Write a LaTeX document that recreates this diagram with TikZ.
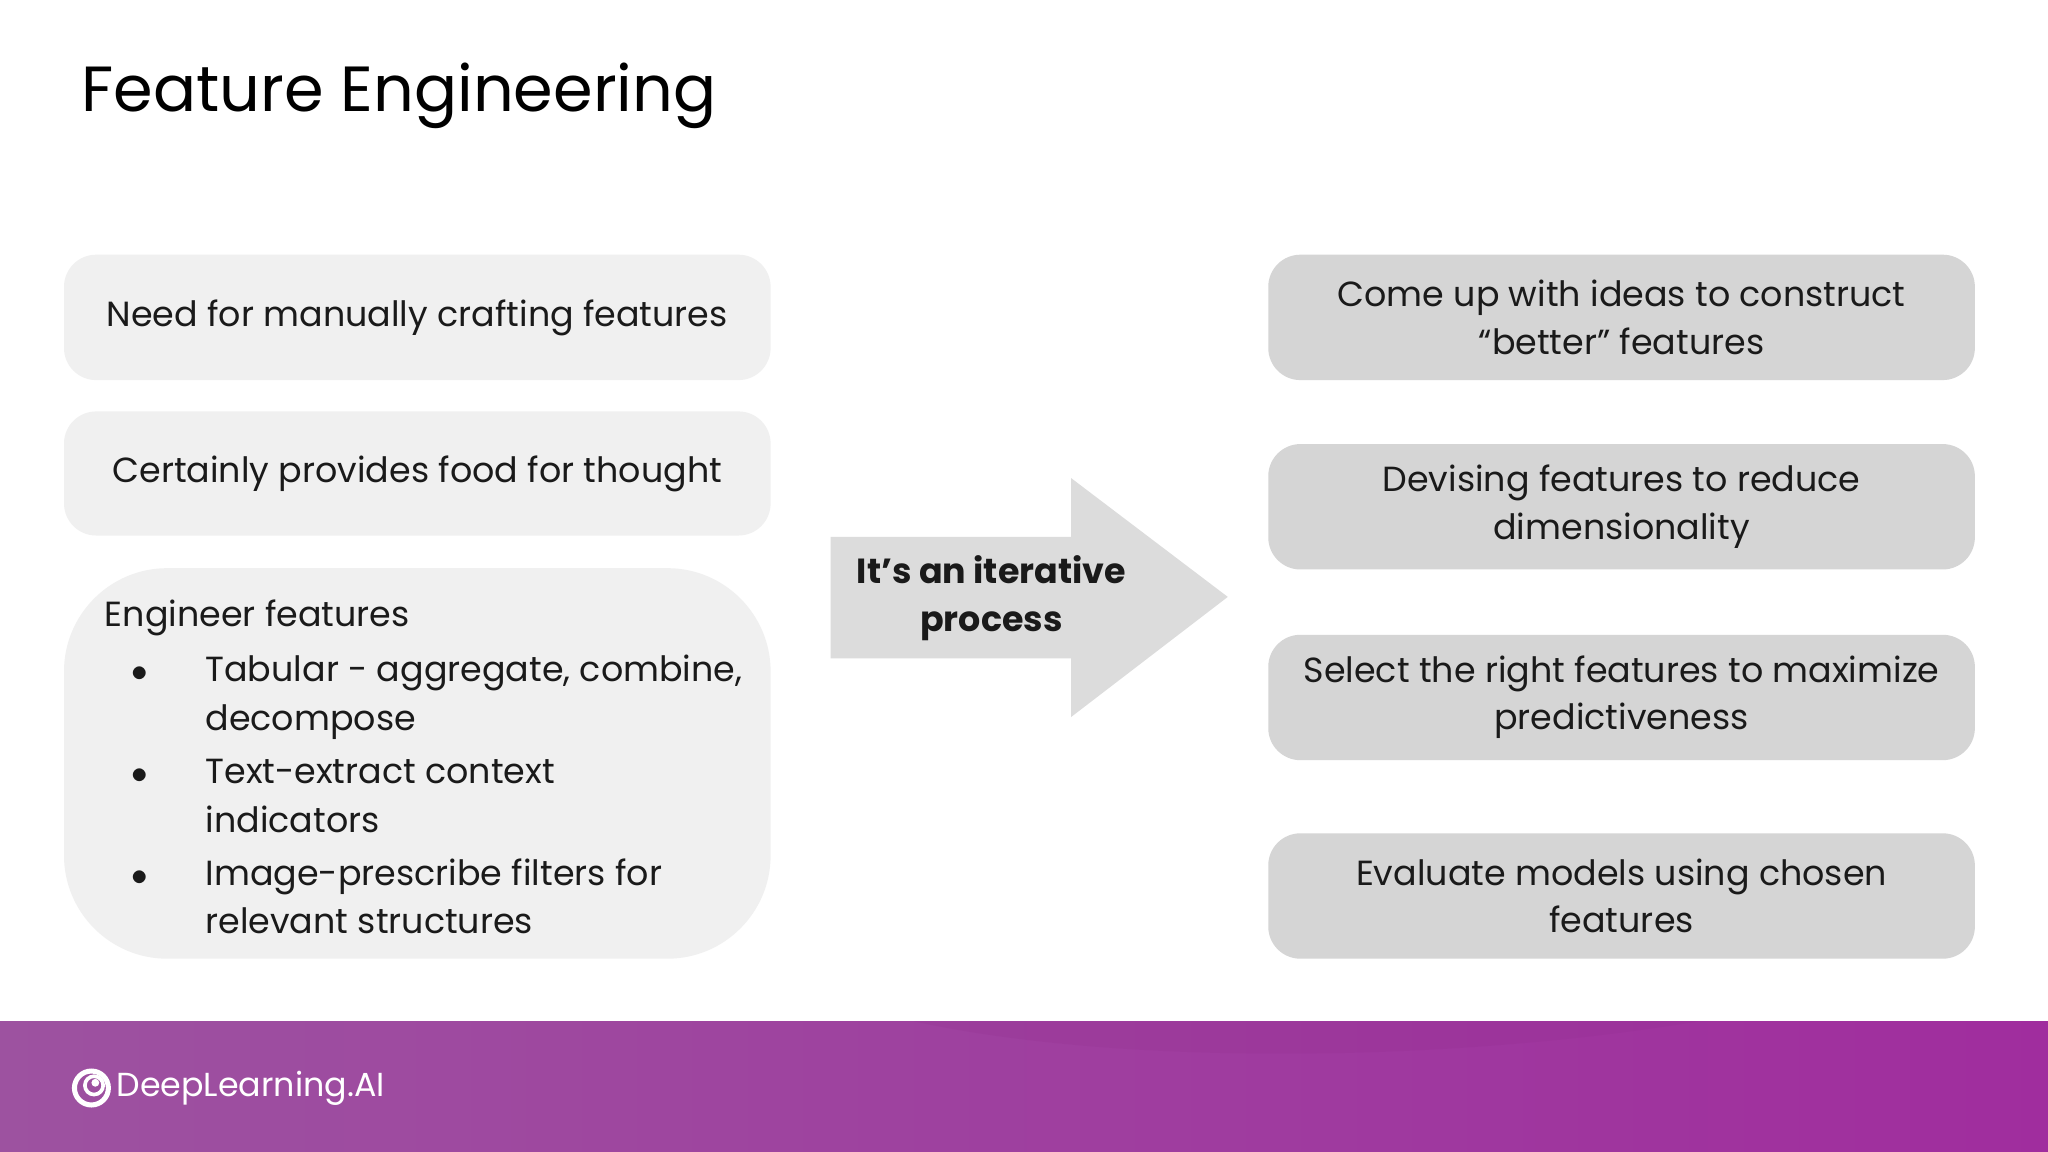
\documentclass[tikz,border=0pt]{standalone}
\usepackage{fontspec}
\setmainfont{Poppins}
\definecolor{txt}{HTML}{1A1A1A}
\definecolor{lbox}{HTML}{F0F0F0}
\definecolor{rbox}{HTML}{D5D5D5}
\definecolor{arr}{HTML}{DCDCDC}
\definecolor{pl}{HTML}{9D52A0}
\definecolor{pr}{HTML}{A02D9E}
\begin{document}
\begin{tikzpicture}[x=0.02cm,y=-0.02cm,
  body/.style={font=\fontsize{15.2}{20.6}\selectfont,text=txt},
  lb/.style={fill=lbox,rounded corners=14},
  rb/.style={fill=rbox,rounded corners=14},
  rt/.style={body,align=center}]
\useasboundingbox (0,0) rectangle (1568,882);
\fill[white] (0,0) rectangle (1568,882);
\node[anchor=base west,font=\fontsize{27.8}{34}\selectfont,text=black,inner sep=0] (title) at (62,85) {Feature Engineering};
% left boxes
\fill[lb] (49,195) rectangle (590,291);
\node[body] (l1) at (319.5,243) {Need for manually crafting features};
\fill[lb] (49,315) rectangle (590,410);
\node[body] (l2) at (319.5,362.5) {Certainly provides food for thought};
\fill[lbox,rounded corners=45] (49,435) rectangle (590,734);
\node[body,anchor=base west,inner sep=0] (e0) at (80,480) {Engineer features};
\foreach \y/\t/\u [count=\i] in {522/{Tabular - aggregate, combine,}/decompose,600/{Text-extract context}/indicators,678/{Image-prescribe filters for}/relevant structures}{
  \node[body,anchor=base west,inner sep=0] (b\i) at (100,\y) {$\bullet$};
  \node[body,anchor=base west,inner sep=0] (t\i) at (157,\y) {\t};
  \node[body,anchor=base west,inner sep=0] (u\i) at (157,\y+37) {\u};
}
% arrow
\fill[arr] (636,411) -- (820,411) -- (820,366) -- (940,457) -- (820,549) -- (820,504) -- (636,504) -- cycle;
\node[body,font=\bfseries\fontsize{15.2}{20.6}\selectfont,align=center] (it) at (759,458) {It’s an iterative\\process};
% right boxes
\fill[rb] (971,195) rectangle (1512,291);
\node[rt] (r1) at (1241.5,243) {Come up with ideas to construct\\“better” features};
\fill[rb] (971,340) rectangle (1512,436);
\node[rt] (r2) at (1241.5,388) {Devising features to reduce\\dimensionality};
\fill[rb] (971,486) rectangle (1512,582);
\node[rt] (r3) at (1241.5,534) {Select the right features to maximize\\predictiveness};
\fill[rb] (971,638) rectangle (1512,734);
\node[rt] (r4) at (1241.5,686) {Evaluate models using chosen\\features};
% footer
\shade[left color=pl,right color=pr] (0,782) rectangle (1568,882);
\fill[pr!85!black,opacity=0.12] (700,782) .. controls (850,815) and (1100,815) .. (1300,782) -- cycle;
\draw[white,line width=2.2] (70,833) circle (13);
\draw[white,line width=1.6] (72,831) circle (7);
\fill[white] (73,829) circle (3);
\node[anchor=west,text=white,font=\fontsize{14.5}{18}\selectfont,inner sep=0] (logo) at (89,833) {DeepLearning.AI};
\end{tikzpicture}
\end{document}
